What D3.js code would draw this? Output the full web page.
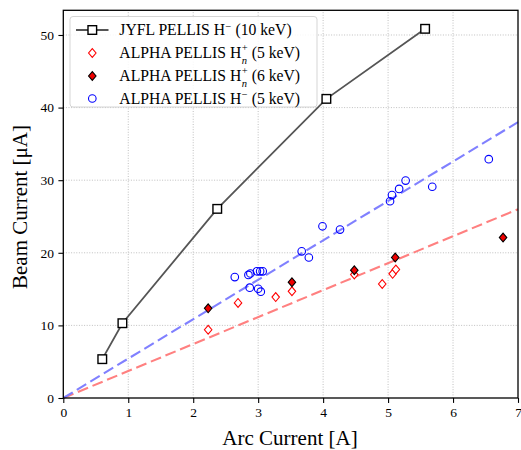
<head>
    <meta charset="utf-8">
    <script src="https://d3js.org/d3.v7.min.js"></script>
    <style>
        body { margin: 0; background: #fff; }
        svg text { font-family: "Liberation Serif", "DejaVu Serif", serif; fill: #000; }
    </style>
</head>
<body>
<svg width="521" height="450"></svg>
<script>

    // JYFL PELLIS H- (10 keV)
    var jyflX = [0.60, 0.91, 2.37, 4.05, 5.57]
    var jyflY = [5.35, 10.3, 26.05, 41.2, 50.85]

    // ALPHA PELLIS Hn+ (5 keV)
    var alpha5X = [2.23, 2.69, 3.27, 3.52, 4.48, 4.91, 5.07, 5.12]
    var alpha5Y = [9.4, 13.1, 13.9, 14.7, 17.0, 15.7, 17.1, 17.7]

    // ALPHA PELLIS Hn+ (6 keV)
    var alpha6X = [2.23, 3.52, 4.48, 5.11, 6.77]
    var alpha6Y = [12.35, 15.95, 17.6, 19.35, 22.1]

    // ALPHA PELLIS H- (5 keV)
    var hminX = [2.64, 2.85, 2.88, 2.98, 3.03, 3.07, 2.87, 3.00, 3.04, 3.67, 3.78, 3.99, 4.26, 5.03, 5.06, 5.17, 5.27, 5.68, 6.55]
    var hminY = [16.65, 16.95, 17.15, 17.45, 17.45, 17.45, 15.2, 15.05, 14.65, 20.2, 19.35, 23.65, 23.2, 27.1, 27.95, 28.8, 29.95, 29.1, 32.9]

    // linear fits through the origin
    var fitX = [0, 7]
    var fitBlue = [0, 38.0]
    var fitRed = [0, 26.0]

    var xTicks = [0, 1, 2, 3, 4, 5, 6, 7]
    var yTicks = [0, 10, 20, 30, 40, 50]

    var svg = d3.select("svg"),
        margin = {top: 10.3, right: 3, bottom: 52, left: 63.3},
        W = +svg.attr("width"),
        H = +svg.attr("height");

    var x = d3.scaleLinear().domain([0, 7]).range([margin.left, W - margin.right]);
    var y = d3.scaleLinear().domain([0, 53.4]).range([H - margin.bottom, margin.top]);

    var zip = (xs, ys) => xs.map((d, i) => [d, ys[i]]);

    //
    // grid
    //
    var grid = svg.append("g");
    grid.selectAll(".gx").data(xTicks.slice(1, -1)).enter().append("line")
        .attr("x1", d => x(d)).attr("x2", d => x(d))
        .attr("y1", y.range()[0]).attr("y2", y.range()[1])
    grid.selectAll(".gy").data(yTicks.slice(1)).enter().append("line")
        .attr("y1", d => y(d)).attr("y2", d => y(d))
        .attr("x1", x.range()[0]).attr("x2", x.range()[1])
    grid.selectAll("line")
        .attr("stroke", "#b0b0b0").attr("stroke-width", 0.8)
        .attr("stroke-dasharray", "1,1.6")

    //
    // fits
    //
    var line = d3.line().x(d => x(d[0])).y(d => y(d[1]));

    svg.append("path").datum(zip(fitX, fitRed))
        .attr("d", line).attr("fill", "none")
        .attr("stroke", "#ff8080").attr("stroke-width", 2.1)
        .attr("stroke-dasharray", "11,4.8")
    svg.append("path").datum(zip(fitX, fitBlue))
        .attr("d", line).attr("fill", "none")
        .attr("stroke", "#8080ff").attr("stroke-width", 2.1)
        .attr("stroke-dasharray", "11,4.8")

    //
    // JYFL line + markers
    //
    svg.append("path").datum(zip(jyflX, jyflY))
        .attr("d", line).attr("fill", "none")
        .attr("stroke", "#555").attr("stroke-width", 1.8)

    function square(g, cx, cy) {
        g.append("rect").attr("x", cx - 4.3).attr("y", cy - 4.3)
            .attr("width", 8.6).attr("height", 8.6)
            .attr("fill", "#fff").attr("stroke", "#000").attr("stroke-width", 1.4)
    }
    function diamond(g, cx, cy, fill, stroke) {
        var r = 4.4;
        g.append("path")
            .attr("d", "M" + cx + "," + (cy - r) + "L" + (cx + r * 0.85) + "," + cy +
                "L" + cx + "," + (cy + r) + "L" + (cx - r * 0.85) + "," + cy + "Z")
            .attr("fill", fill).attr("stroke", stroke).attr("stroke-width", 1.1)
    }
    function circle(g, cx, cy) {
        g.append("circle").attr("cx", cx).attr("cy", cy).attr("r", 3.8)
            .attr("fill", "none").attr("stroke", "#0000ff").attr("stroke-width", 1.1)
    }

    var marks = svg.append("g");
    zip(jyflX, jyflY).forEach(d => square(marks, x(d[0]), y(d[1])));
    zip(alpha5X, alpha5Y).forEach(d => diamond(marks, x(d[0]), y(d[1]), "#fff", "#ff0000"));
    zip(alpha6X, alpha6Y).forEach(d => diamond(marks, x(d[0]), y(d[1]), "#ee0000", "#000"));
    zip(hminX, hminY).forEach(d => circle(marks, x(d[0]), y(d[1])));

    //
    // axes
    //
    var xAxis = svg.append("g")
        .attr("transform", "translate(0," + y(0) + ")")
        .call(d3.axisBottom(x).tickValues(xTicks).tickFormat(d3.format("d")).tickSize(4.9).tickPadding(4.5))
    var yAxis = svg.append("g")
        .attr("transform", "translate(" + x(0) + ",0)")
        .call(d3.axisLeft(y).tickValues(yTicks).tickSize(4.9).tickPadding(4.5))

    svg.selectAll(".domain").remove();
    svg.selectAll(".tick line").attr("stroke", "#000").attr("stroke-width", 1.1);
    svg.selectAll(".tick text").attr("font-family", null)
        .style("font-family", "Liberation Serif").style("font-size", "13.5px").attr("fill", "#000");

    svg.append("rect")
        .attr("x", x(0)).attr("y", y(53.4))
        .attr("width", x(7) - x(0)).attr("height", y(0) - y(53.4))
        .attr("fill", "none").attr("stroke", "#000").attr("stroke-width", 1.3)

    svg.append("text")
        .attr("x", 290).attr("y", 445)
        .attr("text-anchor", "middle").style("font-size", "21px")
        .text("Arc Current [A]")

    svg.append("text")
        .attr("transform", "translate(27,207) rotate(-90)")
        .attr("text-anchor", "middle").style("font-size", "21px")
        .text("Beam Current [\u03bcA]")

    //
    // legend
    //
    var legend = svg.append("g");
    legend.append("rect")
        .attr("x", 70).attr("y", 16.5).attr("width", 247).attr("height", 90.5)
        .attr("rx", 3).attr("fill", "#fff").attr("fill-opacity", 0.85)
        .attr("stroke", "#d0d0d0").attr("stroke-width", 0.9)

    var rowY = [30, 53, 76, 98.5];
    var mx = 92.3, tx = 119.3, fs = 15.7;

    legend.append("line").attr("x1", 76).attr("x2", 108.5)
        .attr("y1", rowY[0]).attr("y2", rowY[0])
        .attr("stroke", "#555").attr("stroke-width", 1.8)
    square(legend, mx, rowY[0]);
    diamond(legend, mx, rowY[1], "#fff", "#ff0000");
    diamond(legend, mx, rowY[2], "#ee0000", "#000");
    circle(legend, mx, rowY[3]);

    // H with a stacked superscript and optional subscript
    function label(row, base, sup, sub, rest) {
        var t = legend.append("text").attr("x", tx).attr("y", rowY[row] + 5)
            .style("font-size", fs + "px");
        var b = t.append("tspan").text(base);
        var w = b.node().getComputedTextLength() + 0.5;
        var s = t.append("tspan").attr("x", tx + w).attr("dy", sub ? -7 : -5.5)
            .style("font-size", "10.5px").text(sup);
        var ew = s.node().getComputedTextLength();
        if (sub) {
            var n = t.append("tspan").attr("x", tx + w).attr("dy", 12.5)
                .style("font-size", "10.5px").style("font-style", "italic").text(sub);
            ew = Math.max(ew, n.node().getComputedTextLength());
            t.append("tspan").attr("x", tx + w + ew).attr("dy", -5.5).text(rest);
        } else {
            t.append("tspan").attr("x", tx + w + ew).attr("dy", 5.5).text(rest);
        }
    }

    label(0, "JYFL PELLIS H", "\u2212", null, " (10 keV)");
    label(1, "ALPHA PELLIS H", "+", "n", " (5 keV)");
    label(2, "ALPHA PELLIS H", "+", "n", " (6 keV)");
    label(3, "ALPHA PELLIS H", "\u2212", null, " (5 keV)");

</script>
</body>
